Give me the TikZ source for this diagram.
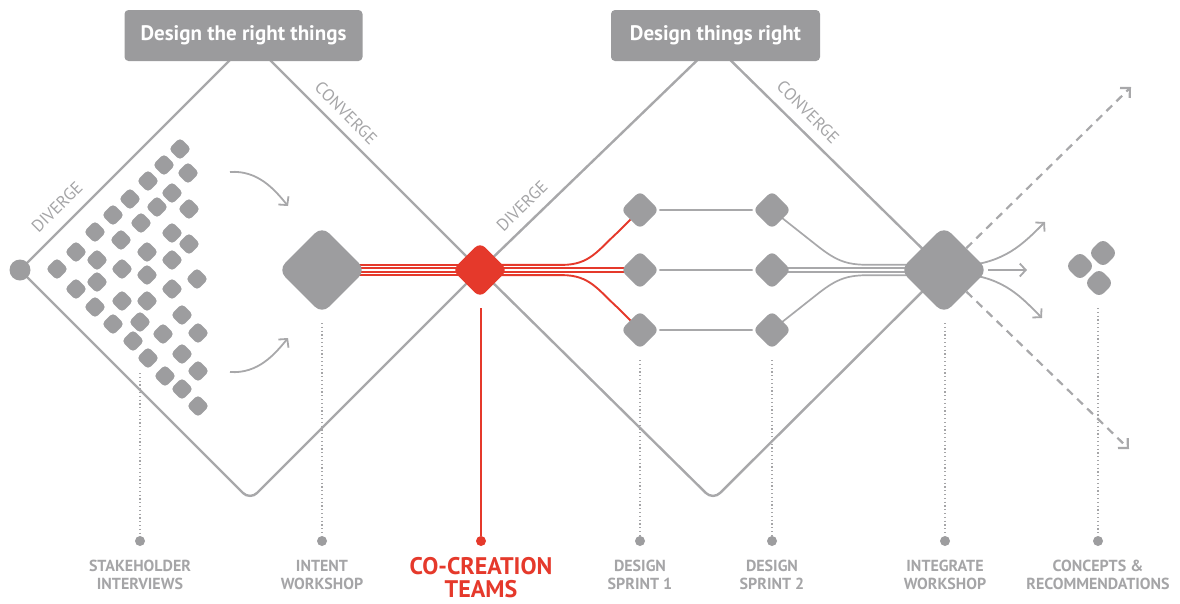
\documentclass[tikz,border=0pt]{standalone}
\usepackage{fontspec}
\setmainfont{PT Sans}
\usetikzlibrary{arrows.meta,calc,backgrounds}
\definecolor{edgegrey}{HTML}{A8A8AA}
\definecolor{blobgrey}{HTML}{9D9D9F}
\definecolor{boxgrey}{HTML}{9B9B9D}
\definecolor{labelgrey}{HTML}{A5A5A7}
\definecolor{cored}{HTML}{E5392B}
\begin{document}
\begin{tikzpicture}[x=1pt,y=-1pt,
  frame/.style={draw=edgegrey,line width=2.4pt,line cap=round},
  dashframe/.style={draw=edgegrey,line width=2.2pt,dash pattern=on 8pt off 6pt,-{Straight Barb[length=7pt,width=14pt]}},
  link/.style={draw=edgegrey,line width=1.9pt},
  bandlink/.style={draw=edgegrey,line width=1.7pt},
  redlink/.style={draw=cored,line width=1.9pt},
  blob/.style={shape=rectangle,rotate=45,fill=blobgrey,inner sep=0pt,minimum size=#1},
  bigblob/.style={blob=62pt,rounded corners=10pt},
  midblob/.style={blob=27pt,rounded corners=6pt},
  smallblob/.style={blob=16pt,rounded corners=4pt},
  heading/.style={fill=boxgrey,rounded corners=4pt,text=white,font=\bfseries\fontsize{21}{24}\selectfont,minimum height=51pt,inner sep=0pt},
  phase/.style={text=labelgrey,font=\fontsize{17}{19}\selectfont},
  stage/.style={text=labelgrey,font=\bfseries\fontsize{16}{18}\selectfont,align=center,anchor=north,inner sep=0pt},
  pin/.style={circle,fill=blobgrey,minimum size=10pt,inner sep=0pt},
  dotline/.style={draw=labelgrey,line width=1.3pt,dash pattern=on 1.2pt off 2.6pt},
  flow/.style={draw=edgegrey,line width=1.8pt,-{Straight Barb[length=6pt,width=13pt]}},
]
\useasboundingbox (0,0) rectangle (1180,603);

% corners of the two diamonds
\coordinate (L1) at (20,270);
\coordinate (A1) at (250,40);
\coordinate (B1) at (250,500);
\coordinate (X1) at (480,270);
\coordinate (A2) at (714,44);
\coordinate (B2) at (713,500);
\coordinate (X2) at (944,270);

% diamond outlines, crossing at the two hubs
\draw[frame] (L1) -- (A1);
\draw[frame,rounded corners=10pt] (L1) -- (B1) -- (X1) -- (A2);
\draw[frame,rounded corners=10pt] (A1) -- (X1) -- (B2) -- (X2);
\draw[frame] (A2) -- (X2);

% phase headings
\node[heading,minimum width=238pt] (h1) at (243.5,35.5) {Design the right things};
\node[heading,minimum width=209pt] (h2) at (715.5,35.5) {Design things right};

% edge labels
\node[phase,rotate=45]  (dv1) at (57,207)  {DIVERGE};
\node[phase,rotate=-45] (cv1) at (346,113) {CONVERGE};
\node[phase,rotate=45]  (dv2) at (522,206) {DIVERGE};
\node[phase,rotate=-45] (cv2) at (808,112) {CONVERGE};

% hubs
\node[circle,fill=blobgrey,minimum size=21pt,inner sep=0pt] (origin) at (L1) {};
\node[bigblob] (intent) at (322,270) {};
\node[blob=39pt,rounded corners=7pt,fill=cored] (cocreate) at (X1) {};
\node[bigblob] (integ) at (X2) {};

% sprint teams
\node[midblob] (s1a) at (640,210) {};
\node[midblob] (s1b) at (640,270) {};
\node[midblob] (s1c) at (640,330) {};
\node[midblob] (s2a) at (772,210) {};
\node[midblob] (s2b) at (772,270) {};
\node[midblob] (s2c) at (772,330) {};

% concept cluster
\node[blob=21pt,rounded corners=7pt] (c1) at (1080,266) {};
\node[blob=21pt,rounded corners=7pt] (c2) at (1103,253) {};
\node[blob=21pt,rounded corners=7pt] (c3) at (1099,283) {};

% stakeholder field
\foreach \x/\y [count=\i] in {
  180/149,164/165,188/173,148/181,172/193,130/199,157/207,189/209,
  113/215,141/223,172/233,95/232,121/240,189/244,76/252,147/252,
  97/260,172/260,57/269,122/269,147/275,197/279,76/289,97/282,
  172/289,95/307,122/301,147/301,182/315,113/324,140/322,163/334,
  198/333,133/341,182/354,148/358,198/371,165/376,182/389,198/406}
  \node[smallblob] (sd\i) at (\x,\y) {};

% arrows into the intent workshop
\coordinate (ia1) at (230,172);
\coordinate (ib1) at (288,206);
\coordinate (ia2) at (230,372);
\coordinate (ib2) at (288,338);
\draw[flow] (ia1) .. controls (258,170) and (275,190) .. (ib1);
\draw[flow] (ia2) .. controls (258,374) and (275,354) .. (ib2);

\begin{pgfonlayer}{background}
  % intent workshop to co-creation hub
  \foreach \o in {-5.1,-1.7,1.7,5.1}
    \draw[redlink] ($(intent)+(0,\o)$) -- ($(cocreate)+(0,\o)$);
  % co-creation hub to the first sprint
  \draw[redlink] ($(cocreate)+(0,-5.1)$) -- (562,264.9)
    .. controls (590,264.9) and (598,250) .. (618,232) -- (s1a.center);
  \draw[redlink] ($(cocreate)+(0,5.1)$) -- (562,275.1)
    .. controls (590,275.1) and (598,290) .. (618,308) -- (s1c.center);
  \foreach \o in {-1.7,1.7}
    \draw[redlink] ($(cocreate)+(0,\o)$) -- ($(s1b)+(0,\o)$);
  % sprint 1 to sprint 2
  \draw[link] (s1a) -- (s2a);
  \draw[link] (s1b) -- (s2b);
  \draw[link] (s1c) -- (s2c);
  % sprint 2 to integrate workshop
  \draw[bandlink] (s2a.center) -- (815,244)
    .. controls (835,260) and (845,264.8) .. (868,264.8) -- ($(integ)+(0,-5.2)$);
  \draw[bandlink] (s2c.center) -- (815,296)
    .. controls (835,280) and (845,275.2) .. (868,275.2) -- ($(integ)+(0,5.2)$);
  \foreach \o in {-1.7,1.7}
    \draw[bandlink] ($(s2b)+(0,\o)$) -- ($(integ)+(0,\o)$);
  % outputs of the integrate workshop
  \coordinate (o1) at (1045,222);
  \coordinate (o2) at (1027,270);
  \coordinate (o3) at (1042,318);
  \draw[flow] ($(integ)+(20,-4)$) .. controls (1005,262) and (1022,245) .. (o1);
  \draw[flow] (integ) -- (o2);
  \draw[flow] ($(integ)+(20,4)$) .. controls (1005,278) and (1022,298) .. (o3);
  % open continuations
  \coordinate (T1) at (1131,87);
  \coordinate (T2) at (1129,449);
  \draw[dashframe] (integ) -- (T1);
  \draw[dashframe] (integ) -- (T2);
\end{pgfonlayer}

% timeline pins
\foreach \nm/\x/\ys in {stake/140/373, intentp/322/323, spa/640/360,
                        spb/772/360, integp/945/323, concept/1098/308}{
  \coordinate (\nm top) at (\x,\ys);
  \node[pin] (\nm pin) at (\x,541) {};
  \draw[dotline] (\nm top) -- (\nm pin);
}
\coordinate (teamtop) at (481,308);
\node[pin,fill=cored] (teampin) at (481,541) {};
\draw[draw=cored,line width=2.2pt] (teamtop) -- (teampin);

% timeline labels
\node[stage] (l1) at (140,560) {STAKEHOLDER\\INTERVIEWS};
\node[stage] (l2) at (322,560) {INTENT\\WORKSHOP};
\node[stage,text=cored,font=\bfseries\fontsize{24}{22.5}\selectfont] (l3) at (481,557.5) {CO-CREATION\\TEAMS};
\node[stage] (l4) at (640,560) {DESIGN\\SPRINT 1};
\node[stage] (l5) at (772,560) {DESIGN\\SPRINT 2};
\node[stage] (l6) at (945,560) {INTEGRATE\\WORKSHOP};
\node[stage] (l7) at (1098,560) {CONCEPTS \&\\RECOMMENDATIONS};
\end{tikzpicture}
\end{document}
